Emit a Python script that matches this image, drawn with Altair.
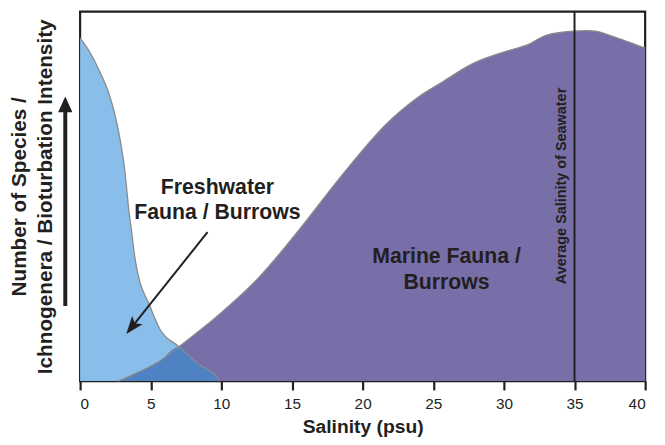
import altair as alt
import pandas as pd

# Freshwater fauna curve (salinity psu, relative intensity 0-100)
FW_S = [0, 0.72, 1.42, 2.01, 2.47, 2.82, 3.17, 3.43, 3.66, 3.90, 4.24, 4.83, 5.64, 7.0, 8.32, 9.72, 9.86]
FW_V = [92.8, 88.8, 83.5, 78.1, 72.0, 65.6, 56.8, 46.9, 40.0, 32.8, 26.7, 21.3, 14.1, 9.3, 4.8, 0.8, 0]

# Marine fauna curve
M_S = [2.73, 4.13, 5.6, 7.0, 9.72, 12.52, 15.31, 18.60, 21.61, 23.92, 25.59, 27.90, 30.21, 31.61, 33.0, 34.9, 36.5, 37.69, 40.0]
M_V = [0, 2.4, 5.3, 9.3, 17.6, 27.5, 40.0, 56.0, 69.3, 76.8, 80.8, 86.1, 89.3, 90.9, 93.6, 94.7, 94.7, 93.3, 90.1]

CROSS_S = 7.0
SEAWATER = 35
X_TICKS = [0, 5, 10, 15, 20, 25, 30, 35, 40]

LABEL_TEXT = ["Freshwater", "Fauna / Burrows", "Marine Fauna /", "Burrows"]
LABEL_S = [9.72, 9.72, 25.94, 25.94]
LABEL_V = [52.3, 45.6, 33.6, 26.4]

SEA_TEXT = "Average Salinity of Seawater"
SEA_TEXT_S = 34.13
SEA_TEXT_V = 52.8

# freshwater arrow: start -> head
ARROW_S = [9.02, 3.66]
ARROW_V = [40.3, 14.6]
# y-axis arrow (left of the plot)
YARROW_S = -1.05
YARROW_V = [20.3, 74.9]

INK = "#231f20"
FONT = "Liberation Sans"

fresh = pd.DataFrame({"s": FW_S, "v": FW_V})
marine = pd.DataFrame({"s": M_S, "v": M_V})
overlap = pd.concat([
    marine[marine["s"] <= CROSS_S],
    fresh[fresh["s"] > CROSS_S],
]).reset_index(drop=True)

xs = alt.Scale(domain=[0, 40], nice=False, zero=False)
ys = alt.Scale(domain=[0, 100], nice=False, zero=False)

X = alt.X("s:Q", scale=xs, axis=alt.Axis(
    values=X_TICKS, title="Salinity (psu)", grid=False, domain=False,
    ticks=True, tickSize=9, tickWidth=2.2, tickColor=INK,
    labelFontSize=15.5, labelFont=FONT,
    labelColor=INK, labelPadding=7, titleFont=FONT, titleFontSize=19.5,
    titleFontWeight="bold", titleColor=INK, titlePadding=6, zindex=1))
Y = alt.Y("v:Q", scale=ys, axis=alt.Axis(
    title=["Number of Species /", "Ichnogenera / Bioturbation Intensity"],
    labels=False, ticks=False, domain=False, grid=False,
    titleFont=FONT, titleFontSize=21, titleFontWeight="bold", titleColor=INK,
    titleLineHeight=26, titlePadding=25))

fresh_area = alt.Chart(fresh).mark_area(color="#89bdea", interpolate="monotone").encode(x=X, y=Y)
marine_area = alt.Chart(marine).mark_area(color="#786ea8", interpolate="catmull-rom").encode(x="s:Q", y="v:Q")
over_area = alt.Chart(overlap).mark_area(color="#4f82c2", interpolate="monotone").encode(x="s:Q", y="v:Q")
fresh_line = alt.Chart(fresh).mark_line(color="#8a8a8a", strokeWidth=1.3, interpolate="monotone").encode(x="s:Q", y="v:Q")
marine_line = alt.Chart(marine).mark_line(color="#8a8a8a", strokeWidth=1.3, interpolate="catmull-rom").encode(x="s:Q", y="v:Q")

sea_rule = alt.Chart(pd.DataFrame({"s": [SEAWATER]})).mark_rule(color=INK, strokeWidth=2).encode(x="s:Q")

labels = alt.Chart(pd.DataFrame({"t": LABEL_TEXT, "s": LABEL_S, "v": LABEL_V})).mark_text(
    font=FONT, fontSize=21.5, fontWeight="bold", color=INK, align="center", baseline="middle"
).encode(x="s:Q", y="v:Q", text="t:N")

sea_label = alt.Chart(pd.DataFrame({"t": [SEA_TEXT], "s": [SEA_TEXT_S], "v": [SEA_TEXT_V]})).mark_text(
    font=FONT, fontSize=14.6, fontWeight="bold", color=INK, align="center", baseline="middle", angle=270
).encode(x="s:Q", y="v:Q", text="t:N")

arrow_df = pd.DataFrame({"s": [ARROW_S[0]], "v": [ARROW_V[0]], "s2": [ARROW_S[1]], "v2": [ARROW_V[1]]})
arrow_line = alt.Chart(arrow_df).mark_rule(color=INK, strokeWidth=2).encode(
    x="s:Q", y="v:Q", x2="s2:Q", y2="v2:Q")
arrow_head = alt.Chart(pd.DataFrame({"s": [ARROW_S[1]], "v": [ARROW_V[1]]})).mark_point(
    shape="M0,-1L0.75,1L0,0.55L-0.75,1Z", filled=True, color=INK, opacity=1, size=324, angle=218.5
).encode(x="s:Q", y="v:Q")

yarrow_df = pd.DataFrame({"s": [YARROW_S], "v": [YARROW_V[0]], "v2": [YARROW_V[1]]})
yarrow_line = alt.Chart(yarrow_df).mark_rule(color=INK, strokeWidth=4, clip=False).encode(
    x="s:Q", y="v:Q", y2="v2:Q")
yarrow_head = alt.Chart(pd.DataFrame({"s": [YARROW_S], "v": [YARROW_V[1]]})).mark_point(
    shape="M0,-1L0.9,1L-0.9,1Z", filled=True, color=INK, opacity=1, size=256, clip=False
).encode(x="s:Q", y="v:Q")

chart = alt.layer(
    fresh_area, marine_area, over_area, fresh_line, marine_line, sea_rule,
    labels, sea_label, arrow_line, arrow_head, yarrow_line, yarrow_head
).properties(
    width=572, height=374,
    autosize=alt.AutoSizeParams(type="none"),
    padding={"left": 73, "top": 1, "right": 12, "bottom": 54},
).configure_view(stroke=INK, strokeWidth=2.2)

chart.save("out.html", embed_options={"renderer": "svg", "actions": False})
